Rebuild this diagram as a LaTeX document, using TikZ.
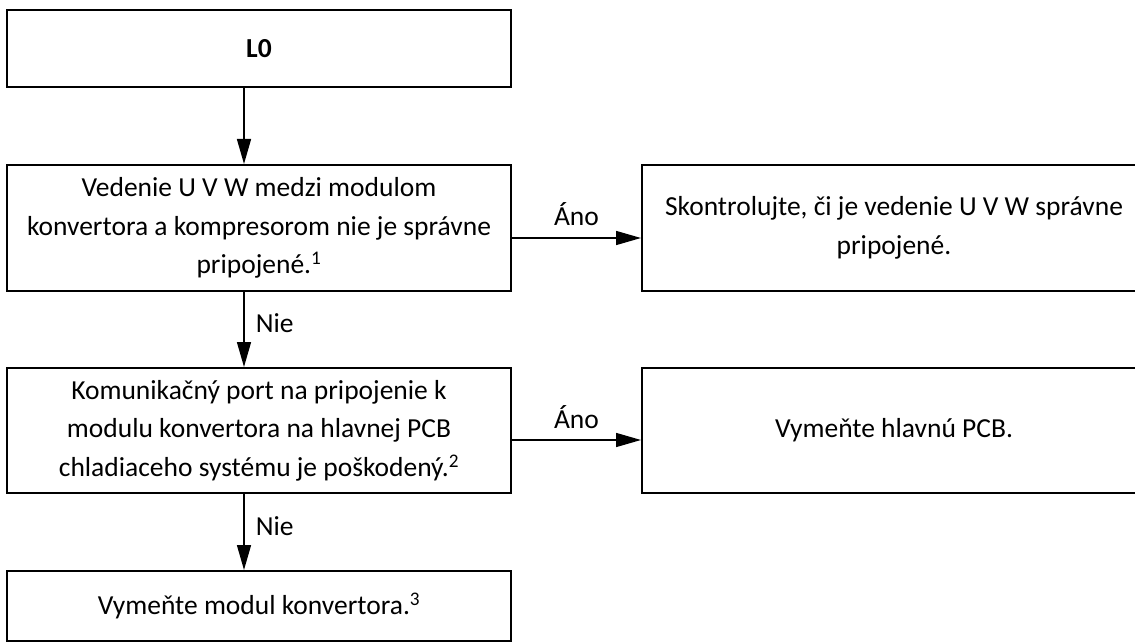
\documentclass[tikz,border=0pt]{standalone}
\usepackage{fontspec}
\setmainfont{Carlito}
\usetikzlibrary{arrows.meta,calc}
\begin{document}
\begin{tikzpicture}[x=1pt,y=-1pt,
  box/.style={draw,line width=2pt,inner sep=0pt,align=center,
    font=\fontsize{27.5}{38.5}\selectfont},
  arr/.style={line width=1.5pt,-{Triangle[length=25pt,width=14pt]}},
  lbl/.style={inner sep=0pt,font=\fontsize{27.5}{33}\selectfont}]
\useasboundingbox (0,0) rectangle (1135,644);
\fill[white] (0,0) rectangle (1135,644);
% boxes
\node[box,minimum width=504pt,minimum height=76.5pt] (L0) at (259,48.75) {\textbf{L0}};
\node[box,minimum width=504pt,minimum height=125.7pt] (B1) at (259,227.85)
  {Vedenie U V W medzi modulom\\konvertora a kompresorom nie je správne\\pripojené.\textsuperscript{1}};
\node[box,minimum width=504pt,minimum height=125.7pt] (R1) at (894,227.85)
  {Skontrolujte, či je vedenie U V W správne\\pripojené.};
\node[box,minimum width=504pt,minimum height=125pt] (B2) at (259,430.5)
  {Komunikačný port na pripojenie k\\modulu konvertora na hlavnej PCB\\chladiaceho systému je poškodený.\textsuperscript{2}};
\node[box,minimum width=504pt,minimum height=125pt] (R2) at (894,430.5)
  {Vymeňte hlavnú PCB.};
\node[box,minimum width=504pt,minimum height=70pt] (B3) at (259,606)
  {Vymeňte modul konvertora.\textsuperscript{3}};
% helper coordinates
\coordinate (ax) at (244,0);
\coordinate (ay1) at (0,238);
\coordinate (ay2) at (0,440);
% connectors
\draw[arr] (L0.south -| ax) -- (B1.north -| ax);
\draw[arr] (B1.south -| ax) -- (B2.north -| ax)
  node[lbl,midway,anchor=base west,xshift=11pt,yshift=-3pt] {Nie};
\draw[arr] (B2.south -| ax) -- (B3.north -| ax)
  node[lbl,midway,anchor=base west,xshift=11pt,yshift=-3pt] {Nie};
\draw[arr] (B1.east |- ay1) -- (R1.west |- ay1)
  node[lbl,midway,anchor=base,yshift=12pt] {Áno};
\draw[arr] (B2.east |- ay2) -- (R2.west |- ay2)
  node[lbl,midway,anchor=base,yshift=12pt] {Áno};
\end{tikzpicture}
\end{document}
